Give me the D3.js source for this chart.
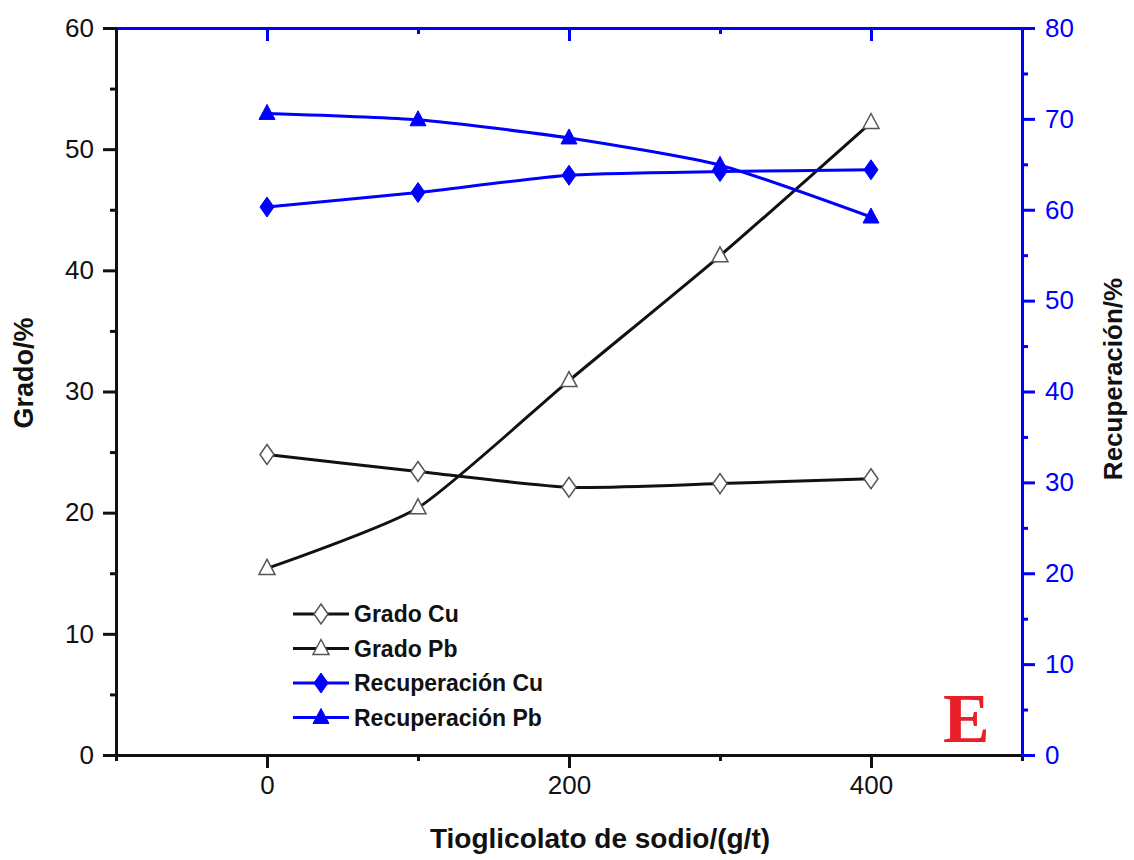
<!DOCTYPE html>
<html>
<head>
<meta charset="utf-8">
<script src="https://cdn.jsdelivr.net/npm/d3@7"></script>
<style>
  body { margin: 0; background: #fff; }
  text { font-family: "Liberation Sans", Arial, sans-serif; }
</style>
</head>
<body>
<svg id="chart" width="1134" height="860"></svg>
<script>
// dosage of sodium thioglycolate (g/t)
const dosages = [0, 100, 200, 300, 400];
// left axis, grade %
const gradoCu = [24.8, 23.4, 22.1, 22.4, 22.8];
const gradoPb = [15.4, 20.4, 30.9, 41.2, 52.2];
// right axis, recovery %
const recupCu = [60.3, 61.9, 63.8, 64.2, 64.4];
const recupPb = [70.6, 69.9, 67.9, 64.9, 59.2];

const xTickLabels = [0, 200, 400];
const leftTicks = [0, 10, 20, 30, 40, 50, 60];
const rightTicks = [0, 10, 20, 30, 40, 50, 60, 70, 80];

const svg = d3.select("#chart");
const layout = { left: 116, right: 1022, top: 28, bottom: 755 };
const BLUE = "#0000ff";
const DARK = "#111";

const x = d3.scaleLinear().domain([-100, 500]).range([layout.left, layout.right]);
const yL = d3.scaleLinear().domain([0, 60]).range([layout.bottom, layout.top]);
const yR = d3.scaleLinear().domain([0, 80]).range([layout.bottom, layout.top]);

function styleAxis(g, color) {
    g.select(".domain").attr("stroke", color).attr("stroke-width", 3);
    g.selectAll(".tick line").attr("stroke", color).attr("stroke-width", 3);
    g.selectAll(".tick text").attr("fill", color).style("font-size", "26px")
        .style("font-family", "'Liberation Sans', Arial, sans-serif");
}

// minor ticks first (drawn under)
const xMinor = [-100, 100, 300, 500];
svg.append("g").attr("transform", "translate(0," + layout.bottom + ")")
    .call(d3.axisBottom(x).tickValues(xMinor).tickSize(6).tickFormat(""))
    .call(g => styleAxis(g, DARK));
svg.append("g").attr("transform", "translate(0," + layout.top + ")")
    .call(d3.axisBottom(x).tickValues(xMinor.slice(1, 3)).tickSize(6).tickFormat(""))
    .call(g => styleAxis(g, BLUE));
svg.append("g").attr("transform", "translate(" + layout.left + ",0)")
    .call(d3.axisLeft(yL).tickValues(d3.range(5, 60, 10)).tickSize(6).tickFormat(""))
    .call(g => styleAxis(g, DARK));
svg.append("g").attr("transform", "translate(" + layout.right + ",0)")
    .call(d3.axisRight(yR).tickValues(d3.range(5, 80, 10)).tickSize(6).tickFormat(""))
    .call(g => styleAxis(g, BLUE));

// top axis, blue, ticks pointing inward
svg.append("g").attr("transform", "translate(0," + layout.top + ")")
    .call(d3.axisBottom(x).tickValues(xTickLabels).tickSize(13).tickSizeOuter(0).tickFormat(""))
    .call(g => styleAxis(g, BLUE));

// bottom axis
svg.append("g").attr("transform", "translate(0," + layout.bottom + ")")
    .call(d3.axisBottom(x).tickValues(xTickLabels).tickSize(13).tickSizeOuter(0).tickPadding(8))
    .call(g => styleAxis(g, DARK));

// left axis
svg.append("g").attr("transform", "translate(" + layout.left + ",0)")
    .call(d3.axisLeft(yL).tickValues(leftTicks).tickSize(13).tickSizeOuter(0).tickPadding(9))
    .call(g => styleAxis(g, DARK));

// right axis
svg.append("g").attr("transform", "translate(" + layout.right + ",0)")
    .call(d3.axisRight(yR).tickValues(rightTicks).tickSize(13).tickSizeOuter(0).tickPadding(10))
    .call(g => styleAxis(g, BLUE));

// axis titles
svg.append("text")
    .attr("x", 600).attr("y", 848)
    .attr("text-anchor", "middle")
    .style("font-size", "28px").style("font-weight", "bold").attr("fill", DARK)
    .text("Tioglicolato de sodio/(g/t)");
svg.append("text")
    .attr("transform", "translate(33,373) rotate(-90)")
    .attr("text-anchor", "middle")
    .style("font-size", "27px").style("font-weight", "bold").attr("fill", DARK)
    .text("Grado/%");
svg.append("text")
    .attr("transform", "translate(1122,379) rotate(-90)")
    .attr("text-anchor", "middle")
    .style("font-size", "26px").style("font-weight", "bold").attr("fill", DARK)
    .text("Recuperación/%");

// series
const series = [
    { name: "Grado Cu", values: gradoCu, y: yL, color: DARK, shape: "diamond", filled: false },
    { name: "Grado Pb", values: gradoPb, y: yL, color: DARK, shape: "triangle", filled: false },
    { name: "Recuperación Cu", values: recupCu, y: yR, color: BLUE, shape: "diamond", filled: true },
    { name: "Recuperación Pb", values: recupPb, y: yR, color: BLUE, shape: "triangle", filled: true }
];

function markerPath(shape) {
    if (shape == "diamond") return "M0,-10L7,0L0,10L-7,0Z";
    return "M0,-9L8,6L-8,6Z";
}

function drawMarker(g, s, cx, cy) {
    g.append("path")
        .attr("d", markerPath(s.shape))
        .attr("transform", "translate(" + cx + "," + cy + ")")
        .attr("fill", s.filled ? s.color : "#fff")
        .attr("stroke", s.filled ? s.color : "#555")
        .attr("stroke-width", s.filled ? 1 : 1.5);
}

const plot = svg.append("g");
series.forEach(function(s) {
    const line = d3.line()
        .x(function(d, i) { return x(dosages[i]); })
        .y(function(d) { return s.y(d); })
        .curve(d3.curveCardinal.tension(0.4));
    plot.append("path")
        .datum(s.values)
        .attr("d", line)
        .attr("fill", "none")
        .attr("stroke", s.color)
        .attr("stroke-width", 3);
});
series.forEach(function(s) {
    s.values.forEach(function(v, i) {
        drawMarker(plot, s, x(dosages[i]), s.y(v));
    });
});

// legend
const legend = svg.append("g").attr("class", "legend");
series.forEach(function(s, i) {
    const cy = 614 + i * 34.5;
    legend.append("line")
        .attr("x1", 293).attr("x2", 349).attr("y1", cy).attr("y2", cy)
        .attr("stroke", s.color).attr("stroke-width", 3);
    drawMarker(legend, s, 321, cy);
    legend.append("text")
        .attr("x", 354).attr("y", cy + 8)
        .style("font-size", "23px").style("font-weight", "bold").attr("fill", DARK)
        .text(s.name);
});

// panel letter
svg.append("text")
    .attr("x", 943).attr("y", 742)
    .style("font-family", "'Liberation Serif', 'Times New Roman', serif")
    .style("font-size", "70px").style("font-weight", "bold")
    .attr("fill", "#e8202a")
    .text("E");
</script>
</body>
</html>
